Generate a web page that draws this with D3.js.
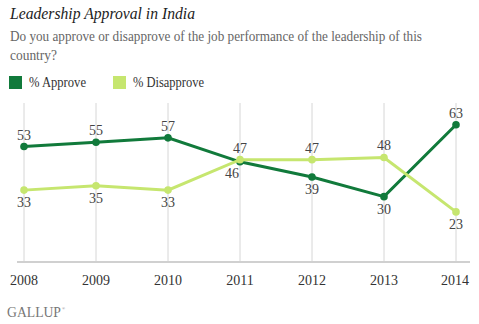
<!DOCTYPE html>
<html lang="en">
<head>
  <meta charset="UTF-8" />
  <title>Leadership Approval in India</title>
  <style>
    body {
      margin: 0;
      background: #ffffff;
    }
    svg {
      display: block;
      font-family: Georgia, "Liberation Serif", "DejaVu Serif", serif;
    }
    .title {
      font-style: italic;
      font-size: 17px;
      fill: #222;
    }
    .subtitle {
      font-size: 14px;
      fill: #666;
    }
    .legend-text {
      font-size: 14px;
      fill: #333;
    }
    .grid {
      stroke: #d6d6d6;
      stroke-width: 1px;
    }
    .axis-line {
      stroke: #d0d0d0;
      stroke-width: 2px;
    }
    .year {
      font-size: 14px;
      fill: #333;
    }
    .val {
      font-size: 14px;
      fill: #444;
    }
    .line {
      fill: none;
      stroke-width: 3px;
    }
  </style>
  <script src="https://d3js.org/d3.v7.min.js"></script>
</head>
<body>
  <svg id="canvas" width="479" height="324"></svg>

  <script>
    const years = ["2008", "2009", "2010", "2011", "2012", "2013", "2014"];
    const approve = [53, 55, 57, 46, 39, 30, 63];
    const disapprove = [33, 35, 33, 47, 47, 48, 23];
    // which side of the point each value label sits on
    const approvePos = ["above", "above", "above", "belowLeft", "below", "below", "above"];
    const disapprovePos = ["below", "below", "below", "above", "above", "above", "below"];

    const darkGreen = "#117a3b";
    const lightGreen = "#c6e66f";

    const svg = d3.select("#canvas");

    const x = d3.scalePoint()
      .domain(years)
      .range([24, 456]);

    const y = d3.scaleLinear()
      .domain([0, 73])
      .range([262, 103]);

    // Title and question, stretched to the header width
    svg.append("text").attr("class", "title")
      .attr("x", 10).attr("y", 19)
      .attr("textLength", 185).attr("lengthAdjust", "spacingAndGlyphs")
      .text("Leadership Approval in India");
    svg.append("text").attr("class", "subtitle")
      .attr("x", 10).attr("y", 41)
      .attr("textLength", 412).attr("lengthAdjust", "spacingAndGlyphs")
      .text("Do you approve or disapprove of the job performance of the leadership of this");
    svg.append("text").attr("class", "subtitle")
      .attr("x", 10).attr("y", 60)
      .attr("textLength", 47).attr("lengthAdjust", "spacingAndGlyphs")
      .text("country?");

    // Legend
    const legend = [
      { label: "% Approve", color: darkGreen, x: 9, w: 57 },
      { label: "% Disapprove", color: lightGreen, x: 113, w: 71 }
    ];
    legend.forEach(d => {
      svg.append("rect")
        .attr("x", d.x).attr("y", 76)
        .attr("width", 13).attr("height", 13)
        .attr("fill", d.color);
      svg.append("text").attr("class", "legend-text")
        .attr("x", d.x + 20).attr("y", 87)
        .attr("textLength", d.w).attr("lengthAdjust", "spacingAndGlyphs")
        .text(d.label);
    });

    // Vertical gridlines
    svg.append("g").selectAll("line")
      .data(years)
      .join("line")
      .attr("class", "grid")
      .attr("x1", d => x(d)).attr("x2", d => x(d))
      .attr("y1", y.range()[1]).attr("y2", y(0));

    // Baseline
    svg.append("line").attr("class", "axis-line")
      .attr("x1", 17).attr("x2", 470)
      .attr("y1", y(0)).attr("y2", y(0));

    // Year labels
    svg.append("g").selectAll("text")
      .data(years)
      .join("text")
      .attr("class", "year")
      .attr("x", (d, i) => i === years.length - 1 ? x(d) - 1 : x(d))
      .attr("y", 285)
      .attr("text-anchor", "middle")
      .text(d => d);

    const line = d3.line()
      .x((d, i) => x(years[i]))
      .y(d => y(d));

    function drawSeries(values, color) {
      const g = svg.append("g");
      g.append("path")
        .datum(values)
        .attr("class", "line")
        .attr("stroke", color)
        .attr("d", line);
      g.selectAll("circle")
        .data(values)
        .join("circle")
        .attr("cx", (d, i) => x(years[i]))
        .attr("cy", d => y(d))
        .attr("r", 3.8)
        .attr("fill", color);
      return g;
    }

    function drawLabels(values, positions) {
      svg.append("g").selectAll("text")
        .data(values)
        .join("text")
        .attr("class", "val")
        .attr("text-anchor", "middle")
        .attr("x", (d, i) => x(years[i]) + (positions[i] === "belowLeft" ? -8 : 0))
        .attr("y", (d, i) => {
          const p = positions[i];
          if (p === "above") return y(d) - 7;
          if (p === "belowLeft") return y(d) + 16;
          return y(d) + 17;
        })
        .text(d => d);
    }

    drawSeries(approve, darkGreen);
    drawSeries(disapprove, lightGreen);
    drawLabels(approve, approvePos);
    drawLabels(disapprove, disapprovePos);

    // Footer
    svg.append("text")
      .attr("x", 7).attr("y", 317)
      .attr("font-size", 14)
      .attr("fill", "#777")
      .attr("textLength", 54).attr("lengthAdjust", "spacingAndGlyphs")
      .text("GALLUP");
    svg.append("text")
      .attr("x", 62).attr("y", 310)
      .attr("font-size", 4)
      .attr("fill", "#777")
      .text("®");
  </script>
</body>
</html>
